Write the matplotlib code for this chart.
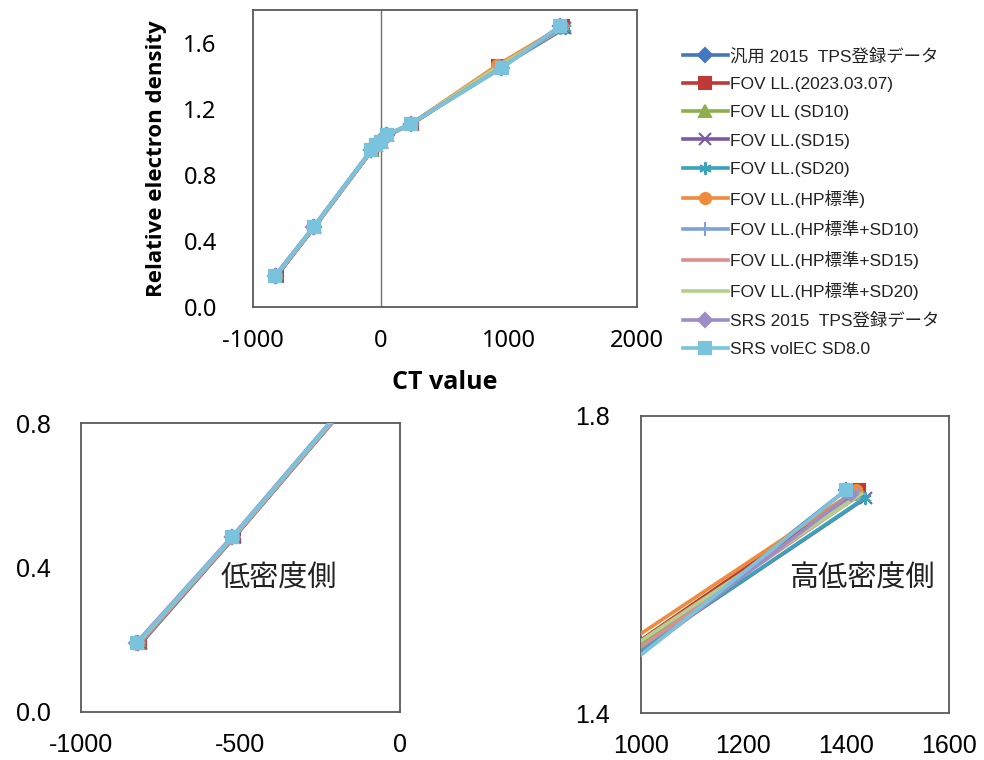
import matplotlib
matplotlib.use("Agg")
import matplotlib.pyplot as plt

# ---------------- data ----------------
series_names = [
    "汎用 2015  TPS登録データ",
    "FOV LL.(2023.03.07)",
    "FOV LL (SD10)",
    "FOV LL.(SD15)",
    "FOV LL.(SD20)",
    "FOV LL.(HP標準)",
    "FOV LL.(HP標準+SD10)",
    "FOV LL.(HP標準+SD15)",
    "FOV LL.(HP標準+SD20)",
    "SRS 2015  TPS登録データ",
    "SRS volEC SD8.0",
]

ct_s1 = [-820, -525, -75, -40, 0, 45, 235, 940, 1400]
ct_s2 = [-815, -520, -70, -35, 5, 50, 240, 920, 1425]
ct_s3 = [-818, -522, -72, -38, 2, 48, 238, 930, 1430]
ct_s4 = [-812, -518, -68, -34, 6, 52, 244, 935, 1440]
ct_s5 = [-814, -519, -69, -36, 4, 50, 242, 935, 1438]
ct_s6 = [-822, -524, -73, -40, 1, 46, 236, 910, 1420]
ct_s7 = [-819, -521, -71, -37, 3, 49, 239, 930, 1425]
ct_s8 = [-817, -520, -70, -37, 3, 49, 239, 930, 1428]
ct_s9 = [-823, -524, -73, -39, 1, 47, 237, 920, 1430]
ct_s10 = [-828, -527, -76, -42, -2, 43, 233, 945, 1410]
ct_s11 = [-825, -525, -75, -40, 0, 45, 235, 950, 1400]

ed_s1 = [0.19, 0.485, 0.95, 0.98, 1.00, 1.04, 1.11, 1.45, 1.70]
ed_s2 = [0.19, 0.485, 0.95, 0.98, 1.00, 1.04, 1.11, 1.46, 1.70]
ed_s3 = [0.19, 0.485, 0.95, 0.98, 1.00, 1.04, 1.11, 1.46, 1.695]
ed_s4 = [0.19, 0.485, 0.95, 0.98, 1.00, 1.04, 1.11, 1.455, 1.69]
ed_s5 = [0.19, 0.485, 0.95, 0.98, 1.00, 1.04, 1.11, 1.455, 1.69]
ed_s6 = [0.19, 0.485, 0.95, 0.98, 1.00, 1.04, 1.11, 1.465, 1.70]
ed_s7 = [0.19, 0.485, 0.95, 0.98, 1.00, 1.04, 1.11, 1.455, 1.695]
ed_s8 = [0.19, 0.485, 0.95, 0.98, 1.00, 1.04, 1.11, 1.455, 1.695]
ed_s9 = [0.19, 0.485, 0.95, 0.98, 1.00, 1.04, 1.11, 1.46, 1.695]
ed_s10 = [0.19, 0.485, 0.95, 0.98, 1.00, 1.04, 1.11, 1.45, 1.695]
ed_s11 = [0.19, 0.485, 0.95, 0.98, 1.00, 1.045, 1.11, 1.45, 1.70]

ct_all = [ct_s1, ct_s2, ct_s3, ct_s4, ct_s5, ct_s6, ct_s7, ct_s8, ct_s9, ct_s10, ct_s11]
ed_all = [ed_s1, ed_s2, ed_s3, ed_s4, ed_s5, ed_s6, ed_s7, ed_s8, ed_s9, ed_s10, ed_s11]

main_xticks = [-1000, 0, 1000, 2000]
main_yticks = [0.0, 0.4, 0.8, 1.2, 1.6]
low_xticks = [-1000, -500, 0]
low_yticks = [0.0, 0.4, 0.8]
high_xticks = [1000, 1200, 1400, 1600]
high_yticks = [1.4, 1.8]

# ---------------- styles ----------------
colors = ["#4377C0", "#BE3A36", "#8DB04C", "#7A5AA0", "#3AA3BC", "#F08A3C",
          "#7FA2D6", "#DC8E8C", "#B4CF8C", "#9E8CC6", "#7AC3DC"]
markers = ["D", "s", "^", "x", (6, 2, 0), "o", "+", "None", "None", "D", "s"]
msizes = [7, 8, 8, 9, 9, 8, 10, 0, 0, 7, 9]

plt.rcParams['font.family'] = ['Liberation Sans', 'Noto Sans CJK JP']
plt.rcParams['axes.unicode_minus'] = False

fig = plt.figure(figsize=(9.84, 7.6), dpi=100)

ax_main = fig.add_axes([0.257, 0.596, 0.390, 0.391])
ax_low = fig.add_axes([0.0823, 0.0632, 0.324, 0.380])
ax_high = fig.add_axes([0.651, 0.0618, 0.313, 0.391])

for ax in (ax_main, ax_low, ax_high):
    handles = []
    for i in range(len(series_names)):
        h, = ax.plot(ct_all[i], ed_all[i], color=colors[i], lw=2.6,
                     marker=markers[i], markersize=msizes[i],
                     markeredgecolor=colors[i], markerfacecolor=colors[i],
                     markeredgewidth=1.5, label=series_names[i], zorder=2 + i)
        handles.append(h)
    for sp in ax.spines.values():
        sp.set_color("#595959")
        sp.set_linewidth(1.3)
    ax.tick_params(length=0)

# main
ax_main.set_xlim(-1000, 2000)
ax_main.set_ylim(0, 1.8)
ax_main.set_xticks(main_xticks)
ax_main.set_yticks(main_yticks)
ax_main.set_yticklabels([f"{v:.1f}" for v in main_yticks])
ax_main.axvline(0, color="#707070", lw=1.0, zorder=1)
ax_main.tick_params(axis='x', pad=16)
ax_main.tick_params(axis='y', pad=26)
for lab in ax_main.get_xticklabels() + ax_main.get_yticklabels():
    lab.set_fontfamily('Noto Sans')
    lab.set_fontsize(17)
ax_main.set_xlabel("CT value", fontsize=18, fontweight='bold',
                   family=['Open Sans', 'DejaVu Sans'], labelpad=12)
ax_main.set_ylabel("Relative electron density", fontsize=16, fontweight='bold',
                   family=['Open Sans', 'DejaVu Sans'], labelpad=12)

# low side
ax_low.set_xlim(-1000, 0)
ax_low.set_ylim(0, 0.8)
ax_low.set_xticks(low_xticks)
ax_low.set_yticks(low_yticks)
ax_low.set_yticklabels([f"{v:.1f}" for v in low_yticks])
ax_low.tick_params(axis='x', pad=15, labelsize=18)
ax_low.tick_params(axis='y', pad=22, labelsize=18)
ax_low.text(0.62, 0.462, "低密度側", transform=ax_low.transAxes, fontsize=21,
            family=['Noto Sans CJK JP'], ha='center', va='center', color="#222222")

# high side
ax_high.set_xlim(1000, 1600)
ax_high.set_ylim(1.4, 1.8)
ax_high.set_xticks(high_xticks)
ax_high.set_yticks(high_yticks)
ax_high.set_yticklabels([f"{v:.1f}" for v in high_yticks])
ax_high.tick_params(axis='x', pad=15, labelsize=18)
ax_high.tick_params(axis='y', pad=22, labelsize=18)
ax_high.text(0.72, 0.452, "高低密度側", transform=ax_high.transAxes, fontsize=21,
             family=['Noto Sans CJK JP'], ha='center', va='center', color="#222222")

leg = fig.legend(handles=handles, loc='upper left', bbox_to_anchor=(0.694, 0.937),
                 frameon=False, fontsize=12.5, handlelength=2.6, handletextpad=0.1,
                 labelspacing=0.745, borderaxespad=0, borderpad=0)
for t in leg.get_texts():
    t.set_color("#222222")

fig.savefig("out.png", dpi=100)
